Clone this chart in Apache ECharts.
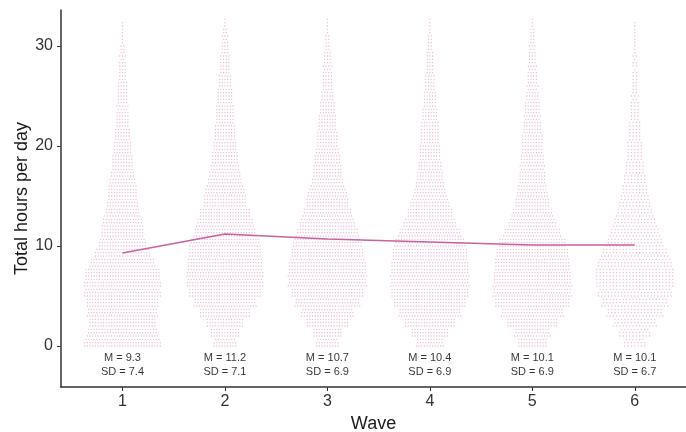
<!DOCTYPE html>
<html lang="en">
<head>
    <meta charset="utf-8">
    <title>Total hours per day by wave</title>
    <script src="https://cdn.jsdelivr.net/npm/echarts@6/dist/echarts.min.js"></script>
</head>
<body style="margin:0;">
    <div id="main" style="width:686px;height:432px;"></div>

    <script>
    // waves, means and SDs printed under each swarm
    var waves = [1, 2, 3, 4, 5, 6];
    var means = [9.3, 11.2, 10.7, 10.4, 10.1, 10.1];
    var sds = [7.4, 7.1, 6.9, 6.9, 6.9, 6.7];

    // number of respondents per one-hour bin (0..32 h)
    var countsW1 = [86,79,75,79,81,86,86,84,73,62,53,48,46,40,35,33,31,26,24,22,20,18,15,14,13,12,11,9,8,7,4,3,2];
    var countsW2 = [26,33,42,57,70,81,86,86,84,81,79,70,64,57,48,46,40,35,31,29,26,24,22,21,19,18,15,13,12,10,8,7,3];
    var countsW3 = [26,33,48,59,73,81,88,88,86,81,77,70,62,55,48,44,37,33,31,28,24,23,21,19,17,14,12,11,10,8,6,4,3];
    var countsW4 = [31,42,57,70,81,87,88,88,86,84,79,70,59,51,44,37,32,29,26,24,22,21,20,18,15,14,12,10,9,8,6,4,3];
    var countsW5 = [33,40,57,70,84,88,88,86,84,81,75,64,53,46,39,35,31,29,28,25,24,22,20,19,17,14,13,11,10,8,7,6,3];
    var countsW6 = [20,29,40,52,61,68,72,72,68,61,52,46,40,34,29,25,22,19,17,15,14,12,11,9,8,7,6,5,5,4,3,3,2];
    var allCounts = [countsW1, countsW2, countsW3, countsW4, countsW5, countsW6];

    var xMin = 0.4, xMax = 6.5, gridLeft = 61, gridRight = 0;
    var pxPerUnit = (686 - gridLeft - gridRight) / (xMax - xMin);
    var dotGapPx = [2.7, 2.7, 2.7, 2.7, 2.7, 3.3];

    // lay each bin's dots out in 3 rows, centred on the wave
    function swarm(w, counts, gapPx) {
        var gap = gapPx / pxPerUnit, pts = [];
        counts.forEach(function (n, h) {
            var per = [0, 0, 0];
            for (var i = 0; i < n; i++) per[i % 3]++;
            per.forEach(function (m, k) {
                var y = h + k / 3;
                for (var j = 0; j < m; j++) {
                    pts.push([w + (j - (m - 1) / 2) * gap, y]);
                }
            });
        });
        return pts;
    }

    var series = [];
    waves.forEach(function (w, i) {
        series.push({
            type: 'scatter', silent: true, symbol: 'circle', symbolSize: 1.4,
            itemStyle: {color: '#e48fbf', opacity: 0.65},
            data: swarm(w, allCounts[i], dotGapPx[i])
        });
    });
    series.push({
        type: 'line', silent: true, symbol: 'none', z: 5,
        lineStyle: {color: '#c8629f', width: 1.5},
        data: waves.map(function (w, i) { return [w, means[i]]; })
    });
    series.push({
        type: 'scatter', silent: true, symbolSize: 0,
        data: waves.map(function (w) { return [w, -1.85]; }),
        label: {
            show: true, position: 'inside', fontSize: 11, lineHeight: 14,
            color: '#000', textBorderWidth: 0, fontFamily: 'Liberation Sans',
            formatter: function (p) {
                return 'M = ' + means[p.dataIndex] + '\nSD = ' + sds[p.dataIndex];
            }
        }
    });

    var myChart = echarts.init(document.getElementById('main'));
    myChart.setOption({
        animation: false,
        textStyle: {fontFamily: 'Liberation Sans'},
        grid: {left: gridLeft, right: gridRight, top: 10, bottom: 45, containLabel: false, outerBoundsMode: 'none'},
        xAxis: {
            type: 'value', min: xMin, max: xMax,
            name: 'Wave', nameLocation: 'middle', nameGap: 27,
            nameTextStyle: {fontSize: 18, color: '#1a1a1a'},
            axisLine: {onZero: false, lineStyle: {color: '#333', width: 1.5}},
            axisTick: {show: true, length: 4, lineStyle: {color: '#333'}, customValues: waves},
            axisLabel: {fontSize: 16, color: '#333', margin: 7, customValues: waves},
            splitLine: {show: false}
        },
        yAxis: {
            type: 'value', min: -4.1, max: 33.6,
            name: 'Total hours per day', nameLocation: 'middle', nameGap: 30, nameMoveOverlap: false,
            nameTextStyle: {fontSize: 18, color: '#1a1a1a'},
            axisLine: {show: true, onZero: false, lineStyle: {color: '#333', width: 1.5}},
            axisTick: {show: true, length: 4, lineStyle: {color: '#333'}, customValues: [0, 10, 20, 30]},
            axisLabel: {fontSize: 16, color: '#333', margin: 8, customValues: [0, 10, 20, 30]},
            splitLine: {show: false}
        },
        series: series
    });
    </script>
</body>
</html>
